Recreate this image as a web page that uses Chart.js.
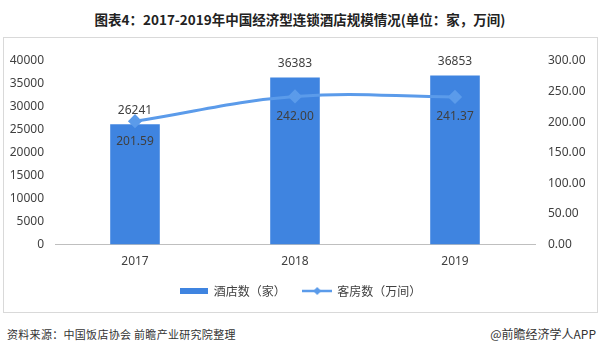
<!DOCTYPE html>
<html><head><meta charset="utf-8">
<script src="https://cdn.jsdelivr.net/npm/chart.js@4"></script>
<style>
html,body{margin:0;padding:0;background:#fff;width:600px;height:356px;overflow:hidden;font-family:"Noto Sans CJK SC","Noto Sans",sans-serif;}
#title{position:absolute;left:0;top:9px;width:600px;text-align:center;font-size:13.5px;font-weight:bold;color:#222;line-height:20px;}
#box{position:absolute;left:3px;top:37px;width:593px;height:274px;border:1px solid #d9d9d9;}
#src{position:absolute;left:7px;top:326px;font-size:11px;color:#333;letter-spacing:0.3px;}
#app{position:absolute;right:4px;top:325px;font-size:12px;color:#333;}
</style></head><body>
<div id="title">图表4：2017-2019年中国经济型连锁酒店规模情况(单位：家，万间)</div>
<div id="box"><canvas id="c" width="593" height="274"></canvas></div>
<div id="src">资料来源：中国饭店协会 前瞻产业研究院整理</div>
<div id="app">@前瞻经济学人APP</div>
<script>
const categories = ['2017','2018','2019'];
const hotels = [26241, 36383, 36853];
const rooms = [201.59, 242.00, 241.37];
const leftTicks = [0,5000,10000,15000,20000,25000,30000,35000,40000];
const rightTicks = [0,50,100,150,200,250,300];

const barColor = '#3F84E0';
const lineColor = '#5B9BEA';

function barIcon(){
  const c=document.createElement('canvas');c.width=28;c.height=6;
  const x=c.getContext('2d');x.fillStyle=barColor;x.fillRect(0,0,28,6);return c;
}
function lineIcon(){
  const c=document.createElement('canvas');c.width=30;c.height=10;
  const x=c.getContext('2d');x.strokeStyle=lineColor;x.lineWidth=2.5;
  x.beginPath();x.moveTo(0,5);x.lineTo(30,5);x.stroke();
  x.fillStyle=lineColor;x.beginPath();x.moveTo(15,1);x.lineTo(19,5);x.lineTo(15,9);x.lineTo(11,5);x.closePath();x.fill();
  return c;
}

const labelPlugin = {
  id:'vals',
  afterDatasetsDraw(chart){
    const ctx=chart.ctx;
    ctx.save();
    ctx.font='12px "Noto Sans","Noto Sans CJK SC",sans-serif';
    ctx.fillStyle='#404040';
    ctx.textAlign='center';ctx.textBaseline='middle';
    chart.getDatasetMeta(0).data.forEach((el,i)=>{
      ctx.fillText(String(hotels[i]), el.x, el.y-14);
    });
    chart.getDatasetMeta(1).data.forEach((el,i)=>{
      ctx.fillText(rooms[i].toFixed(2), el.x, el.y+20);
    });
    ctx.restore();
  }
};

new Chart(document.getElementById('c'),{
  data:{
    labels:categories,
    datasets:[
      {type:'bar',label:'酒店数（家）',data:hotels,backgroundColor:barColor,yAxisID:'y',barPercentage:0.62,categoryPercentage:0.5,order:2},
      {type:'line',label:'客房数（万间）',data:rooms,borderColor:lineColor,backgroundColor:lineColor,borderWidth:3,
       pointStyle:'rectRot',pointRadius:5,pointHoverRadius:5,tension:0.4,yAxisID:'y1',order:1}
    ]
  },
  options:{
    responsive:false,animation:false,
    layout:{padding:{top:23,bottom:5,left:0,right:0}},
    plugins:{
      title:{display:false},tooltip:{enabled:false},
      legend:{
        position:'bottom',
        labels:{
          usePointStyle:true,pointStyleWidth:28,padding:6,
          color:'#404040',font:{size:12,family:'"Noto Sans CJK SC",sans-serif'},
          generateLabels(chart){
            return [
              {text:'酒店数（家）\u3000  ',pointStyle:barIcon(),fillStyle:barColor,strokeStyle:barColor,lineWidth:0,datasetIndex:0,fontColor:'#404040'},
              {text:'客房数（万间）',pointStyle:lineIcon(),fillStyle:lineColor,strokeStyle:lineColor,lineWidth:0,datasetIndex:1,fontColor:'#404040'}
            ];
          }
        }
      }
    },
    scales:{
      x:{
        grid:{display:false,drawTicks:false},
        border:{display:true,color:'#bfbfbf'},
        ticks:{padding:10,color:'#404040',font:{size:12,family:'"Noto Sans",sans-serif'}}
      },
      y:{
        position:'left',min:0,max:40000,
        afterBuildTicks(s){s.ticks=leftTicks.map(v=>({value:v}));},
        afterFit(s){s.width=51;},
        grid:{display:false,drawTicks:false},
        border:{display:false},
        ticks:{padding:11,color:'#404040',font:{size:12,family:'"Noto Sans",sans-serif'},callback:v=>String(v)}
      },
      y1:{
        position:'right',min:0,max:300,
        afterBuildTicks(s){s.ticks=rightTicks.map(v=>({value:v}));},
        afterFit(s){s.width=62;},
        grid:{display:false,drawTicks:false},
        border:{display:false},
        ticks:{padding:13,color:'#404040',font:{size:12,family:'"Noto Sans",sans-serif'},callback:v=>Number(v).toFixed(2)}
      }
    }
  },
  plugins:[labelPlugin]
});
</script>
</body></html>
